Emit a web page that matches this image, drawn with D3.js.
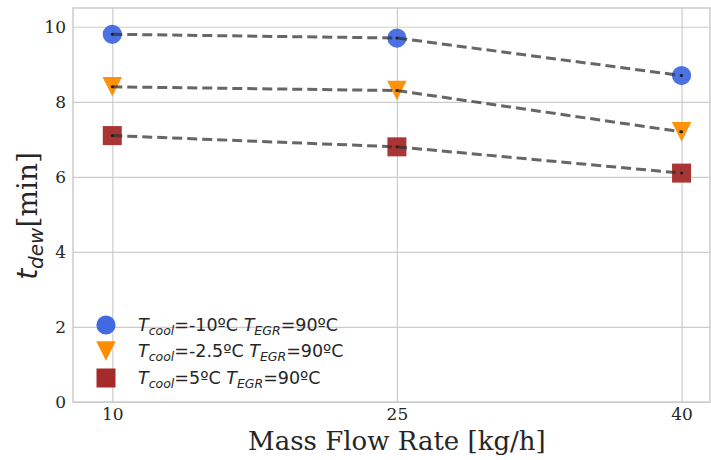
<!DOCTYPE html>
<html>
<head>
<meta charset="utf-8">
<script src="https://cdn.jsdelivr.net/npm/d3@7"></script>
<style>
  body { margin: 0; background: #fff; }
  svg { display: block; }
</style>
</head>
<body>
<svg id="chart"></svg>
<script>
// data
var flowRates = [10, 25, 40];
var tdewCoolMinus10 = [9.8, 9.7, 8.7];
var tdewCoolMinus2_5 = [8.4, 8.3, 7.2];
var tdewCool5 = [7.1, 6.8, 6.1];
var yTicks = [0, 2, 4, 6, 8, 10];
var legendLabels = [
  { cool: "-10ºC", egr: "90ºC" },
  { cool: "-2.5ºC", egr: "90ºC" },
  { cool: "5ºC", egr: "90ºC" }
];

var W = 711, H = 460;
var margin = { top: 8, right: 1, bottom: 58, left: 73 },
  width = W - margin.left - margin.right,
  height = H - margin.top - margin.bottom;

var svg = d3.select("#chart").attr("width", W).attr("height", H);
var g = svg.append("g")
  .attr("transform", "translate(" + margin.left + "," + margin.top + ")");

var x = d3.scaleLinear().domain([7.93, 41.5]).range([0, width]);
var y = d3.scaleLinear().domain([0, 10.5]).range([height, 0]);

// grid
g.append("g")
  .call(d3.axisLeft(y).tickValues(yTicks).tickSize(-width).tickFormat(""))
  .call(function (s) { s.select(".domain").remove(); })
  .selectAll("line").attr("stroke", "#cccccc").attr("stroke-width", 1.2);
g.append("g")
  .attr("transform", "translate(0," + height + ")")
  .call(d3.axisBottom(x).tickValues(flowRates).tickSize(-height).tickFormat(""))
  .call(function (s) { s.select(".domain").remove(); })
  .selectAll("line").attr("stroke", "#cccccc").attr("stroke-width", 1.2);

// frame
g.append("rect")
  .attr("width", width).attr("height", height)
  .attr("fill", "none").attr("stroke", "#cccccc").attr("stroke-width", 1.5);

// tick labels
g.append("g")
  .call(d3.axisLeft(y).tickValues(yTicks).tickSize(0).tickPadding(7))
  .call(function (s) { s.select(".domain").remove(); })
  .selectAll("text")
  .attr("font-family", "DejaVu Serif").attr("font-size", 17).attr("fill", "#262626");
g.append("g")
  .attr("transform", "translate(0," + height + ")")
  .call(d3.axisBottom(x).tickValues(flowRates).tickSize(0).tickPadding(6))
  .call(function (s) { s.select(".domain").remove(); })
  .selectAll("text")
  .attr("font-family", "DejaVu Serif").attr("font-size", 17).attr("fill", "#262626");

// axis labels
svg.append("text")
  .attr("x", margin.left + x(25)).attr("y", 450)
  .attr("text-anchor", "middle")
  .attr("font-family", "DejaVu Serif").attr("font-size", 26).attr("fill", "#262626")
  .text("Mass Flow Rate [kg/h]");

var yl = svg.append("text")
  .attr("transform", "translate(37," + 216 + ") rotate(-90)")
  .attr("text-anchor", "middle")
  .attr("font-size", 28).attr("fill", "#262626");
yl.append("tspan").attr("font-family", "DejaVu Sans").attr("font-style", "italic").text("t");
yl.append("tspan").attr("font-family", "DejaVu Sans").attr("font-style", "italic")
  .attr("font-size", 20).attr("dy", 6).text("dew");
yl.append("tspan").attr("font-family", "DejaVu Serif").attr("dy", -6).text("[min]");

// markers: matplotlib-like down triangle
var triDown = { draw: function (ctx, size) {
  var h = Math.sqrt(size) / 2;
  ctx.moveTo(-h, -h); ctx.lineTo(h, -h); ctx.lineTo(0, h); ctx.closePath();
} };

var series = [
  { values: tdewCoolMinus10, color: "#4169e1", shape: d3.symbolCircle, size: 290 },
  { values: tdewCoolMinus2_5, color: "#ff8c00", shape: triDown, size: 380 },
  { values: tdewCool5, color: "#a52a2a", shape: d3.symbolSquare, size: 361 }
];

function markerTransform(px, py) {
  return "translate(" + px + "," + py + ")";
}

series.forEach(function (s) {
  g.selectAll(null)
    .data(s.values)
    .enter().append("path")
    .attr("d", d3.symbol().type(s.shape).size(s.size))
    .attr("transform", function (d, i) { return markerTransform(x(flowRates[i]), y(d)); })
    .attr("fill", s.color)
    .attr("fill-opacity", 0.95);
});

var line = d3.line()
  .x(function (d, i) { return x(flowRates[i]); })
  .y(function (d) { return y(d); });

series.forEach(function (s) {
  g.append("path")
    .datum(s.values)
    .attr("d", line)
    .attr("fill", "none")
    .attr("stroke", "#333")
    .attr("stroke-opacity", 0.75)
    .attr("stroke-width", 3)
    .attr("stroke-dasharray", "10,5");
  g.selectAll(null)
    .data(s.values)
    .enter().append("circle")
    .attr("cx", function (d, i) { return x(flowRates[i]); })
    .attr("cy", function (d) { return y(d); })
    .attr("r", 1.5)
    .attr("fill", "#222");
});

// legend
var legend = g.append("g").attr("transform", "translate(33,317)");
legendLabels.forEach(function (lab, i) {
  var s = series[i];
  var rowY = [0, 26, 53][i];
  legend.append("path")
    .attr("d", d3.symbol().type(s.shape).size(s.size))
    .attr("transform", markerTransform(0, rowY))
    .attr("fill", s.color);
  var t = legend.append("text")
    .attr("x", 32).attr("y", rowY + 6)
    .attr("font-family", "DejaVu Sans").attr("font-size", 17.5).attr("fill", "#262626");
  t.append("tspan").attr("font-style", "italic").text("T");
  t.append("tspan").attr("font-style", "italic").attr("font-size", 12.5).attr("dy", 4).text("cool");
  t.append("tspan").attr("dy", -4).text("=" + lab.cool + " ");
  t.append("tspan").attr("font-style", "italic").text("T");
  t.append("tspan").attr("font-style", "italic").attr("font-size", 12.5).attr("dy", 4).text("EGR");
  t.append("tspan").attr("dy", -4).text("=" + lab.egr);
});
</script>
</body>
</html>
